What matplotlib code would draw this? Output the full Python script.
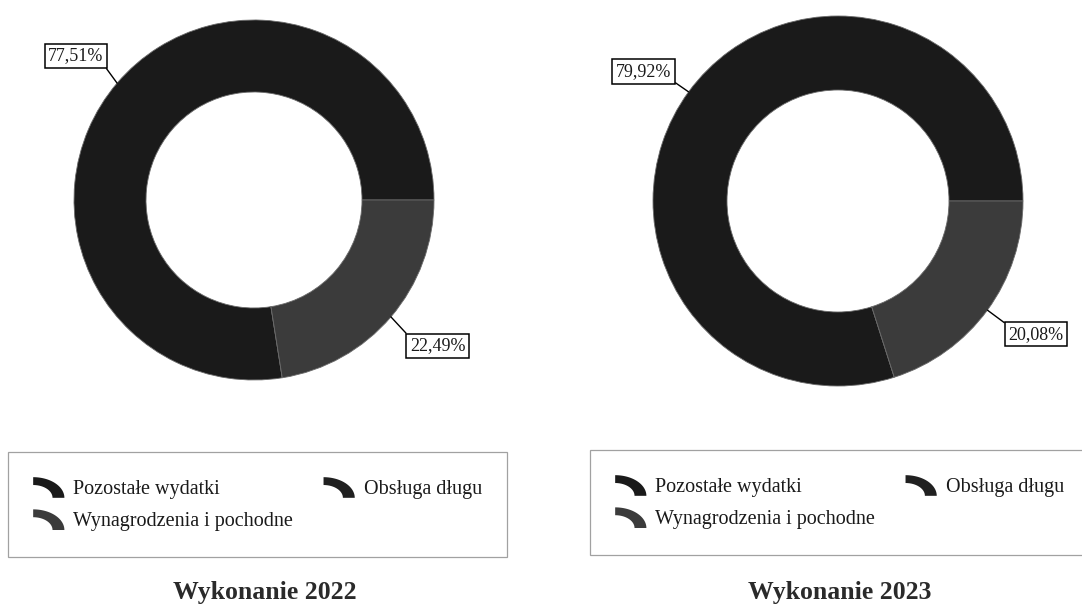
import numpy as np
import matplotlib
matplotlib.use("Agg")
import matplotlib.pyplot as plt
from matplotlib.patches import Patch, Polygon
from matplotlib.legend_handler import HandlerPatch

plt.rcParams["font.family"] = ["Liberation Serif", "DejaVu Serif"]

categories = ["Pozostałe wydatki", "Obsługa długu", "Wynagrodzenia i pochodne"]
share_2022 = [77.51, 0.00, 22.49]
share_2023 = [79.92, 0.00, 20.08]
titles = ["Wykonanie 2022", "Wykonanie 2023"]
slice_colors = ["#1a1a1a", "#202020", "#3b3b3b"]

W, H = 1082, 606
fig = plt.figure(figsize=(W / 100, H / 100), dpi=100)
fig.patch.set_facecolor("white")


def arc_icon(legend, orig_handle, xdescent, ydescent, width, height, fontsize):
    # quarter of an elliptic ring, like the excel doughnut legend key
    t = np.linspace(np.pi / 2, 0, 30)
    a, b = width, height
    th = 0.38
    outer = np.c_[a * np.cos(t), b * np.sin(t)]
    inner = np.c_[a * (1 - th) * np.cos(t[::-1]), b * (1 - th) * np.sin(t[::-1])]
    pts = np.vstack([outer, inner]) + [-xdescent, -ydescent]
    return Polygon(pts, closed=True)


def pct(v):
    return ("%.2f" % v).replace(".", ",") + "%"


# (center x, center y, radius) in pixels, label offsets in radius units
layout = [
    dict(cx=254, cy=200, r=180, lab={0: (-0.99, 0.80), 2: (1.02, -0.81)},
         leg=(8, 452), title_x=265),
    dict(cx=838, cy=201, r=185, lab={0: (-1.05, 0.70), 2: (1.07, -0.72)},
         leg=(590, 450), title_x=840),
]

for values, title, lay in zip([share_2022, share_2023], titles, layout):
    cx, cy, r = lay["cx"], lay["cy"], lay["r"]
    ax = fig.add_axes([(cx - r) / W, (H - cy - r) / H, 2 * r / W, 2 * r / H])
    wedges, _ = ax.pie(values, colors=slice_colors, startangle=0, counterclock=True,
                       radius=1.0,
                       wedgeprops=dict(width=0.4, edgecolor="#6a6a6a", linewidth=0.6))
    ax.set_xlim(-1, 1)
    ax.set_ylim(-1, 1)
    ax.axis("off")

    for i, w in enumerate(wedges):
        if values[i] <= 0:
            continue
        mid = np.deg2rad((w.theta1 + w.theta2) / 2)
        x, y = np.cos(mid), np.sin(mid)
        tx, ty = lay["lab"][i]
        rel = (1, 0) if x < 0 else (0, 1)
        ax.annotate(pct(values[i]), xy=(x, y), xytext=(tx, ty),
                    ha="center", va="center", fontsize=13, color="#1a1a1a",
                    annotation_clip=False,
                    bbox=dict(boxstyle="square,pad=0.2", fc="white", ec="black", lw=1.1),
                    arrowprops=dict(arrowstyle="-", color="black", lw=1.0,
                                    shrinkA=0, shrinkB=0, relpos=rel))

    # legend: column order so that "Obsługa długu" sits in the second column
    order = [0, 2, 1]
    handles = [Patch(facecolor=slice_colors[k], edgecolor="none") for k in order]
    labels = [categories[k] for k in order]
    lx, ly = lay["leg"]
    leg = fig.legend(handles, labels, ncol=2, loc="upper left",
                     bbox_to_anchor=(lx / W, 1 - ly / H), borderaxespad=0,
                     fontsize=14.5, frameon=True, fancybox=False,
                     borderpad=1.25, handlelength=1.55, handleheight=1.2,
                     handletextpad=0.45, columnspacing=1.5, labelspacing=0.5,
                     handler_map={Patch: HandlerPatch(patch_func=arc_icon)})
    leg.get_frame().set_edgecolor("#8a8a8a")
    leg.get_frame().set_linewidth(0.9)
    for t in leg.get_texts():
        t.set_color("#1a1a1a")

    fig.text(lay["title_x"] / W, 1 - 593 / H, title, ha="center", va="center",
             fontsize=18.5, fontweight="bold", color="#2a2a2a")

fig.savefig("out.png", dpi=100, facecolor="white")
